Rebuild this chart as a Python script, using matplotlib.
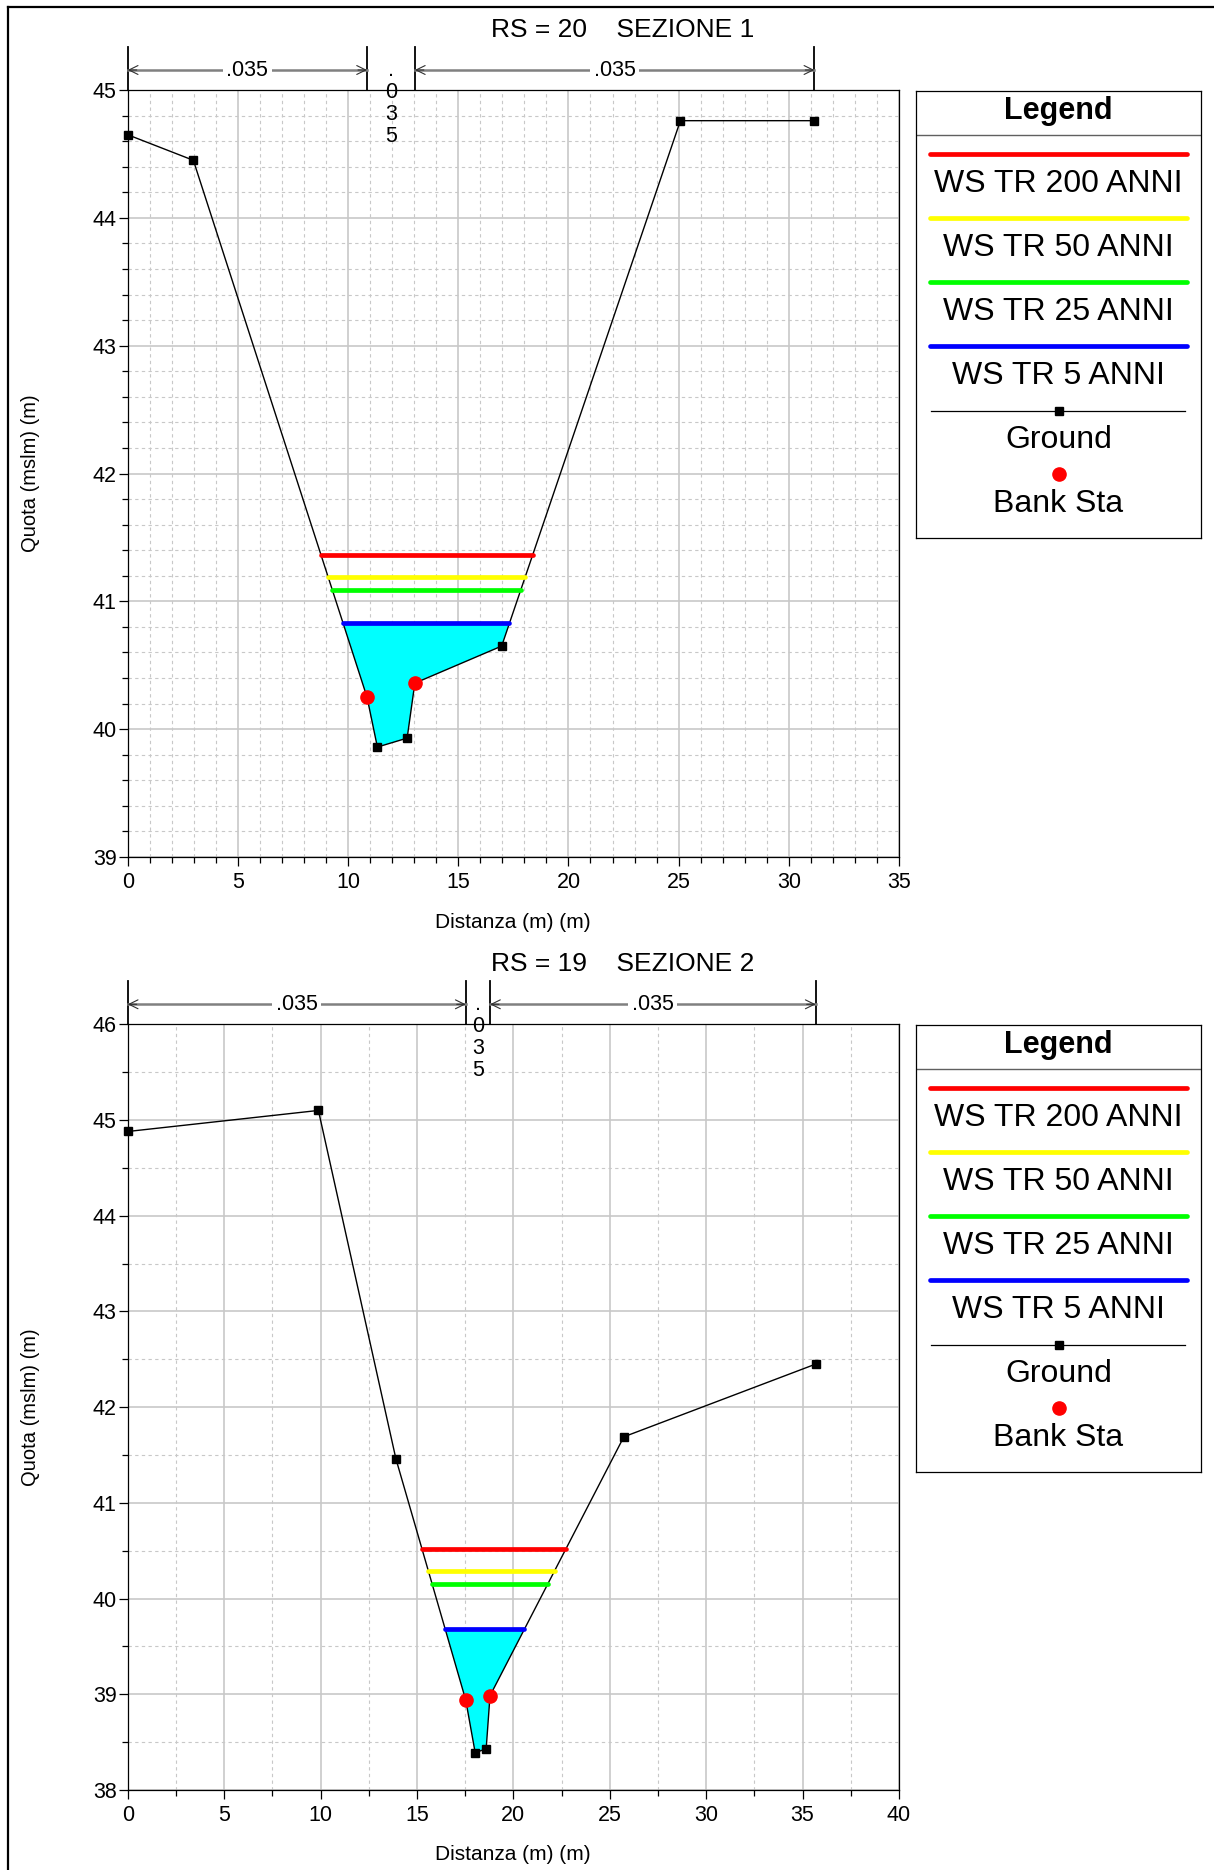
import numpy as np
import matplotlib.pyplot as plt
import matplotlib.transforms as mtransforms
from matplotlib.ticker import MultipleLocator
from matplotlib.lines import Line2D

plt.rcParams['font.family'] = ['Liberation Sans', 'DejaVu Sans']

# RS = 20  SEZIONE 1
sta1 = [0, 2.98, 10.86, 11.33, 12.68, 13.03, 16.97, 25.08, 31.16]
elev1 = [44.65, 44.45, 40.25, 39.86, 39.93, 40.36, 40.65, 44.76, 44.76]
banks1 = [10.86, 13.03]
ws1 = [41.36, 41.19, 41.09, 40.83]

# RS = 19  SEZIONE 2
sta2 = [0, 9.89, 13.91, 17.53, 18.02, 18.59, 18.79, 25.73, 35.68]
elev2 = [44.88, 45.10, 41.46, 38.94, 38.39, 38.43, 38.985, 41.69, 42.45]
banks2 = [17.53, 18.79]
ws2 = [40.52, 40.29, 40.155, 39.68]

profiles = ['WS TR 200 ANNI', 'WS TR 50 ANNI', 'WS TR 25 ANNI', 'WS TR 5 ANNI']
colors = ['#ff0000', '#ffff00', '#00ff00', '#0000ff']
manning = ['.035', '.035', '.035']

W, H = 1214, 1870
GRID = '#c8c8c8'


def wet_limits(sta, elev, z):
    sta = np.asarray(sta, float)
    elev = np.asarray(elev, float)
    i = int(np.argmin(elev))
    l = i
    while l > 0 and elev[l - 1] < z:
        l -= 1
    xl = np.interp(z, [elev[l], elev[l - 1]], [sta[l], sta[l - 1]]) if l > 0 else sta[0]
    r = i
    while r < len(sta) - 1 and elev[r + 1] < z:
        r += 1
    xr = np.interp(z, [elev[r], elev[r + 1]], [sta[r], sta[r + 1]]) if r < len(sta) - 1 else sta[-1]
    return xl, xr, l, r


def draw_section(ax, sta, elev, banks, ws, xmax, ylim, xminor, yminor):
    ax.set_xlim(0, xmax)
    ax.set_ylim(*ylim)
    ax.xaxis.set_major_locator(MultipleLocator(5))
    ax.xaxis.set_minor_locator(MultipleLocator(xminor))
    ax.yaxis.set_major_locator(MultipleLocator(1))
    ax.yaxis.set_minor_locator(MultipleLocator(yminor))
    ax.grid(which='major', color=GRID, lw=1.2, ls='-')
    ax.grid(which='minor', color=GRID, lw=0.8, ls=(0, (3, 3)))
    ax.set_axisbelow(True)
    ax.tick_params(which='both', direction='out', top=False, right=False,
                   labelsize=15.5, width=0.9)
    ax.tick_params(which='major', length=6.5)
    ax.tick_params(which='minor', length=4.5)
    ax.tick_params(axis='x', pad=4)
    ax.tick_params(axis='y', pad=1.5)
    for s in ax.spines.values():
        s.set_linewidth(0.9)

    # wetted area of the lowest profile
    z = ws[-1]
    xl, xr, l, r = wet_limits(sta, elev, z)
    px = [xl] + list(sta[l:r + 1]) + [xr]
    py = [z] + list(elev[l:r + 1]) + [z]
    ax.fill(px, py, color='#00ffff', lw=0, zorder=2)

    ax.plot(sta, elev, color='black', lw=1.0, marker='s', ms=5.5, zorder=3,
            clip_on=False)

    for z, c in zip(ws, colors):
        xl, xr, _, _ = wet_limits(sta, elev, z)
        ax.plot([xl, xr], [z, z], color=c, lw=3.4, solid_capstyle='round', zorder=4)

    bz = np.interp(banks, sta, elev)
    ax.plot(banks, bz, ls='none', marker='o', color='#ff0000', ms=9.5, zorder=5)

    # manning n markers above the plot
    trans = mtransforms.blended_transform_factory(ax.transData, ax.transAxes)
    hpx = ax.get_position().height * H
    xpx = ax.get_position().width * W / xmax
    edges = [0, banks[0], banks[1], sta[-1]]
    for x in edges:
        ax.plot([x, x], [1, 1 + 43 / hpx], transform=trans, color='black',
                lw=1.3, clip_on=False)
    ya = 1 + 20 / hpx
    for (x0, x1), n in zip(zip(edges[:-1], edges[1:]), manning):
        mid = 0.5 * (x0 + x1)
        if (x1 - x0) * xpx < 70:
            for k, ch in enumerate(n):
                ax.text(mid, 1 - (2 + 22 * (k - 1)) / hpx, ch, transform=trans,
                        ha='center', va='center', fontsize=15.5, zorder=6)
            continue
        ax.plot([x0, x1], [ya, ya], transform=trans, color='#808080', lw=1.8,
                clip_on=False)
        for xe, d in ((x0, 6.5), (x1, -6.5)):
            ax.annotate('', xy=(xe, ya), xycoords=trans,
                        xytext=(d, 0), textcoords='offset points',
                        arrowprops=dict(arrowstyle='->,head_length=0.65,head_width=0.32',
                                        color='#303030', lw=0.8,
                                        shrinkA=0, shrinkB=0))
        ax.text(mid, ya, n, transform=trans, ha='center', va='center',
                fontsize=15.5,
                bbox=dict(fc='white', ec='none', pad=2.5))


def draw_legend(lax):
    lax.set_xlim(0, 285)
    lax.set_ylim(447, 0)
    lax.set_xticks([])
    lax.set_yticks([])
    for s in lax.spines.values():
        s.set_linewidth(0.9)
    lax.text(142.5, 20, 'Legend', ha='center', va='center', fontsize=22,
             fontweight='bold')
    lax.plot([0, 285], [44, 44], color='#606060', lw=1.0)
    for k, (name, c) in enumerate(zip(profiles, colors)):
        lax.plot([14, 271], [63 + 64 * k] * 2, color=c, lw=3.4,
                 solid_capstyle='round')
        lax.text(142.5, 93 + 64 * k, name, ha='center', va='center', fontsize=23)
    lax.plot([15, 269], [320, 320], color='black', lw=0.9)
    lax.plot([142.5], [320], marker='s', color='black', ms=5.5)
    lax.text(142.5, 349, 'Ground', ha='center', va='center', fontsize=23)
    lax.plot([142.5], [383], marker='o', color='#ff0000', ms=9.5)
    lax.text(142.5, 413, 'Bank Sta', ha='center', va='center', fontsize=23)


def main():
    fig = plt.figure(figsize=(W / 100, H / 100), dpi=100)

    # outer frame (top and left edges)
    fig.add_artist(Line2D([8 / W, 1], [1 - 7 / H] * 2, transform=fig.transFigure,
                          color='black', lw=1.6))
    fig.add_artist(Line2D([8 / W] * 2, [0, 1 - 7 / H], transform=fig.transFigure,
                          color='black', lw=1.6))

    sections = [
        (sta1, elev1, banks1, ws1, 35, (39, 45), 1, 0.2, 'RS = 20    SEZIONE 1',
         90, 857, 91),
        (sta2, elev2, banks2, ws2, 40, (38, 46), 2.5, 0.5, 'RS = 19    SEZIONE 2',
         1024.3, 1790, 1025),
    ]
    for sta, elev, banks, ws, xmax, ylim, xm, ym, title, top, bot, ltop in sections:
        ax = fig.add_axes([127.7 / W, 1 - bot / H, 771.3 / W, (bot - top) / H])
        draw_section(ax, sta, elev, banks, ws, xmax, ylim, xm, ym)
        fig.text(622.5 / W, 1 - (top - 60) / H, title, ha='center', va='center',
                 fontsize=19)
        fig.text(513 / W, 1 - (bot + 65) / H, 'Distanza (m) (m)', ha='center',
                 va='center', fontsize=15)
        fig.text(31 / W, 1 - 0.5 * (top + bot) / H, 'Quota (mslm) (m)',
                 rotation=90, ha='center', va='center', fontsize=14.5)
        lax = fig.add_axes([916 / W, 1 - (ltop + 447) / H, 285 / W, 447 / H])
        draw_legend(lax)

    fig.savefig('out.png', dpi=100)


if __name__ == '__main__':
    main()
